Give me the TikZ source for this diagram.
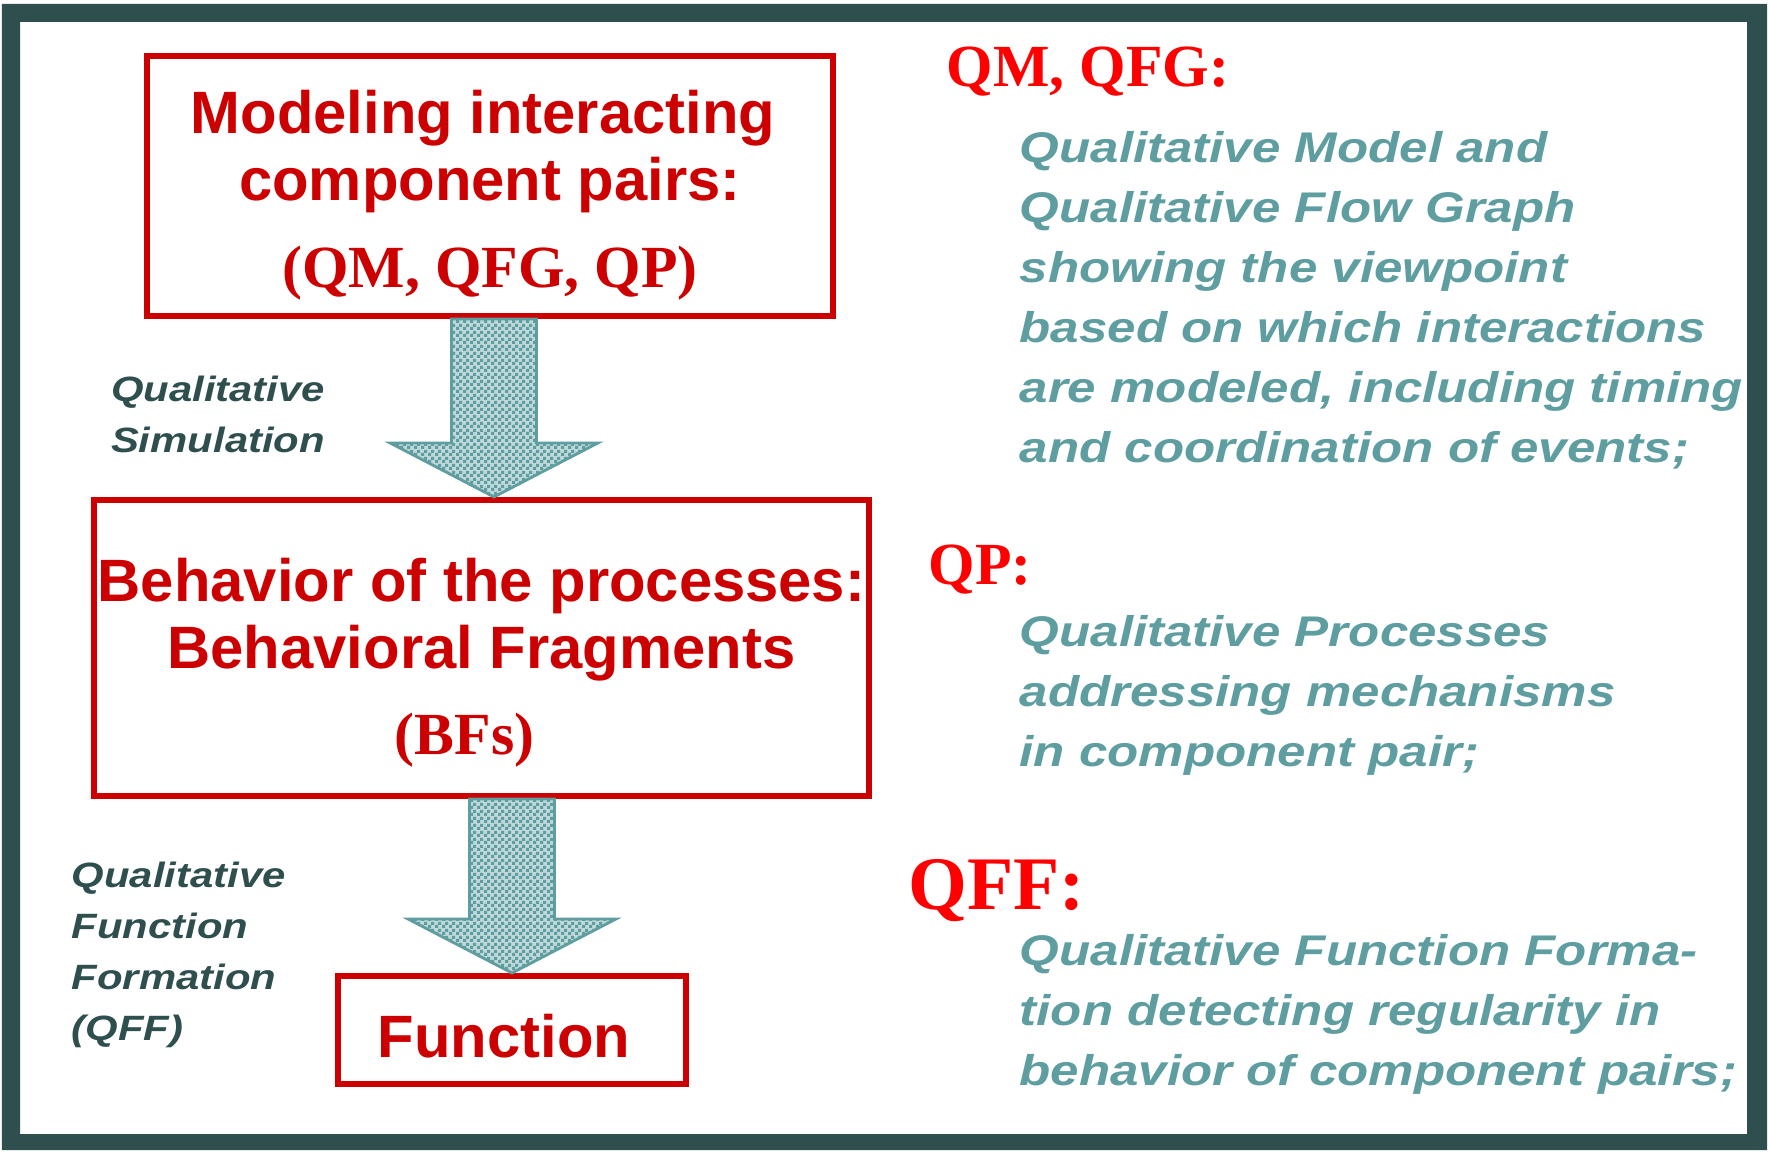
\documentclass[tikz,border=0pt]{standalone}
\usepackage{fontspec}
\setmainfont{Liberation Sans}
\newfontfamily\timesfont{Liberation Serif}
\newfontfamily\widefont[FakeStretch=1.19]{Liberation Sans}
\usetikzlibrary{calc,patterns.meta}

\definecolor{boxred}{HTML}{CC0000}
\definecolor{titlered}{HTML}{FF0000}
\definecolor{slate}{HTML}{2F4F4F}
\definecolor{cadet}{HTML}{5F9EA0}

\tikzdeclarepattern{
  name=finecheck,
  type=uncolored,
  bottom left={(0pt,0pt)},
  top right={(2pt,2pt)},
  tile size={(2pt,2pt)},
  code={
    \pgfpathrectangle{\pgfpointorigin}{\pgfqpoint{1pt}{1pt}}
    \pgfpathrectangle{\pgfqpoint{1pt}{1pt}}{\pgfqpoint{1pt}{1pt}}
    \pgfusepath{fill}
  }
}

\tikzset{
  redbox/.style={draw=boxred, line width=1.7pt, text=boxred, align=center, inner xsep=0pt,
    font=\fontsize{17}{19.2}\selectfont\bfseries},
  fatarrow/.style={draw=cadet, line width=0.8pt, preaction={fill=cadet!40},
    pattern=finecheck, pattern color=cadet},
  sidelabel/.style={text=slate, inner sep=0pt,
    font=\widefont\fontsize{10}{14.5}\selectfont\bfseries\itshape},
  headline/.style={text=titlered, anchor=base west, inner sep=0pt,
    font=\timesfont\fontsize{17}{19}\selectfont\bfseries},
  remark/.style={text=cadet, align=left, anchor=north west, inner sep=0pt,
    font=\widefont\fontsize{12.2}{17.07}\selectfont\bfseries\itshape},
}

% block arrow from the top point #1 down to the tip #2
\newcommand{\blockarrow}[2]{%
  \draw[fatarrow] ($(#1)+(-42.5,0)$) -- ($(#1)+(42.5,0)$) -- ($(#2)+(42.5,-54)$)
    -- ($(#2)+(104,-54)$) -- (#2) -- ($(#2)+(-104,-54)$) -- ($(#2)+(-42.5,-54)$) -- cycle;}

\begin{document}
\begin{tikzpicture}[x=0.01cm, y=-0.01cm]
    \useasboundingbox (0,0) rectangle (1769,1152);

    % frame
    \fill[slate, even odd rule] (2,4) rectangle (1767,1150) (20,22) rectangle (1747,1134);

    \node[redbox, minimum width=6.86cm, minimum height=2.6cm] at (490,186) (model)
        {\rule{0pt}{17.4pt}Modeling interacting\hspace*{4pt}\\component pairs:\hspace*{4pt}\\[5.5pt]{\timesfont (QM, QFG, QP)}};
    \node[redbox, minimum width=7.75cm, minimum height=2.96cm] at (481.5,648) (behav)
        {\rule{0pt}{20.6pt}Behavior of the processes:\\Behavioral Fragments\\[5.2pt]{\timesfont (BFs)}\hspace*{9.6pt}};
    \node[redbox, minimum width=3.48cm, minimum height=1.08cm] at (512,1030) (func)
        {\rule{0pt}{15.6pt}Function\hspace*{4.6pt}};

    % arrows between the boxes
    \coordinate (simtop) at ($(model.south)+(4,0)$);
    \coordinate (simtip) at (simtop |- behav.north);
    \coordinate (qfftop) at (func.north |- behav.south);
    \coordinate (qfftip) at (func.north);
    \blockarrow{simtop}{simtip}
    \blockarrow{qfftop}{qfftip}

    \node[sidelabel, align=center] at (218,414) (simlabel) {Qualitative\\Simulation};
    \node[sidelabel, align=left, anchor=west] at (71,955) (qfflabel)
        {Qualitative\\Function\\Formation\\(QFF)};

    % notes on the right
    \node[headline] at (946,87) (qmhead) {QM, QFG:};
    \node[remark] at (1019,131) (qmtext)
        {Qualitative Model and\\Qualitative Flow Graph\\showing the viewpoint\\based on which interactions\\are modeled, including timing\\and coordination of events;};

    \node[headline] at (928,584) (qphead) {QP:};
    \node[remark] at (1019,615) (qptext)
        {Qualitative Processes\\addressing mechanisms\\in component pair;};

    \node[headline, font=\timesfont\fontsize{21.5}{24}\selectfont\bfseries] at (908,909) (qffhead) {QFF:};
    \node[remark] at (1019,934) (qfftext)
        {Qualitative Function Forma-\\tion detecting regularity in\\behavior of component pairs;};

\end{tikzpicture}
\end{document}
